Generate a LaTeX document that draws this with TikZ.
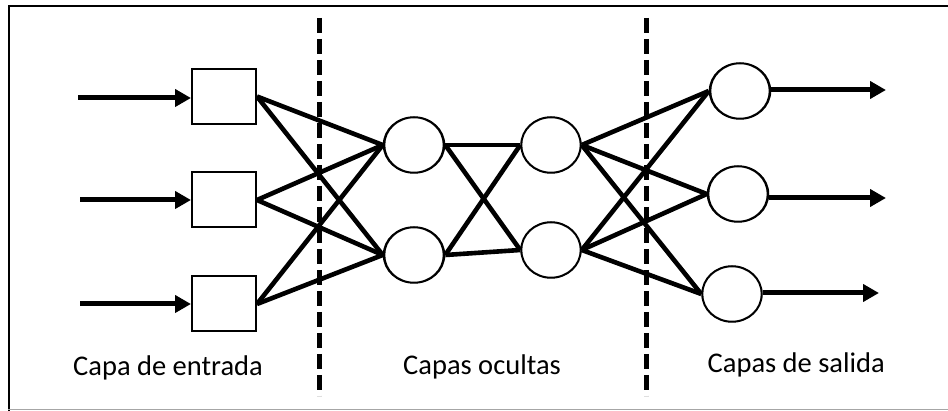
\documentclass[tikz,border=0pt]{standalone}
\usepackage{fontspec}
\setmainfont{Carlito}
\usetikzlibrary{shapes.geometric,arrows.meta}
\begin{document}
\begin{tikzpicture}[x=1pt,y=-1pt,
  inbox/.style={draw,line width=2pt,minimum width=64pt,minimum height=55pt,inner sep=0pt,fill=white},
  neuron/.style={draw,ellipse,line width=1.5pt,minimum width=61pt,minimum height=56pt,inner sep=0pt,fill=white},
  ring/.style={line width=1.5pt,fill=white},
  link/.style={line width=4.6pt},
  flow/.style={line width=5pt,-{Triangle[length=16pt,width=17pt]}},
  divider/.style={line width=5pt,dash pattern=on 15pt off 6pt},
  lbl/.style={font=\fontsize{28.5}{30}\selectfont,anchor=base west,inner sep=0pt}]
\useasboundingbox (0,0) rectangle (948,411);
% frame
\draw[line width=2.7pt] (9,411) -- (9,6) -- (948,6);
\draw[line width=1.2pt,gray!70] (8,409.5) -- (948,409.5);
% dividers
\coordinate (d1t) at (319,18); \coordinate (d1b) at (319,396);
\coordinate (d2t) at (646,18); \coordinate (d2b) at (646,396);
\draw[divider] (d1t) -- (d1b);
\draw[divider] (d2t) -- (d2b);
% nodes
\node[inbox] (inA) at (224,96.5) {};
\node[inbox] (inB) at (224,200) {};
\node[inbox] (inC) at (224,304) {};
\node[neuron] (h1a) at (414,145) {};
\node[neuron] (h1b) at (414,255) {};
\node[neuron,minimum width=60pt] (h2a) at (551,145) {};
\node[neuron,minimum width=60pt] (h2b) at (551,250) {};
\node[neuron] (o1) at (740,91) {};
\node[neuron] (o2) at (738,194) {};
\node[neuron,minimum width=60pt] (o3) at (732,294) {};
% links
\foreach \a in {inA,inB,inC} {
  \foreach \b in {h1a,h1b} { \draw[link] (\a.east) -- (\b.west); }
}
\foreach \a in {h1a,h1b} {
  \foreach \b in {h2a,h2b} { \draw[link] (\a.east) -- (\b.west); }
}
\foreach \a in {h2a,h2b} {
  \foreach \b in {o1,o2,o3} { \draw[link] (\a.east) -- (\b.west); }
}
% circles redrawn on top of the link ends
\foreach \n in {h1a,h1b,h2a,h2b,o1,o2,o3} {
  \draw[ring] (\n.center) ellipse [x radius=29.5pt,y radius=27.5pt];
}
% input arrows
\coordinate (iA) at (78,98);
\coordinate (iB) at (80,200);
\coordinate (iC) at (80,304);
\draw[flow] (iA) -- (inA.west |- iA);
\draw[flow] (iB) -- (inB.west |- iB);
\draw[flow] (iC) -- (inC.west |- iC);
% output arrows
\coordinate (oA) at (886,90);
\coordinate (oB) at (886,198);
\coordinate (oC) at (879,293);
\draw[flow] (o1.east |- oA) -- (oA);
\draw[flow] (o2.east |- oB) -- (oB);
\draw[flow] (o3.east |- oC) -- (oC);
% labels
\node[lbl] (l1) at (73,376) {Capa de entrada};
\node[lbl] (l2) at (403,375) {Capas ocultas};
\node[lbl] (l3) at (707.5,373) {Capas de salida};
\end{tikzpicture}
\end{document}
